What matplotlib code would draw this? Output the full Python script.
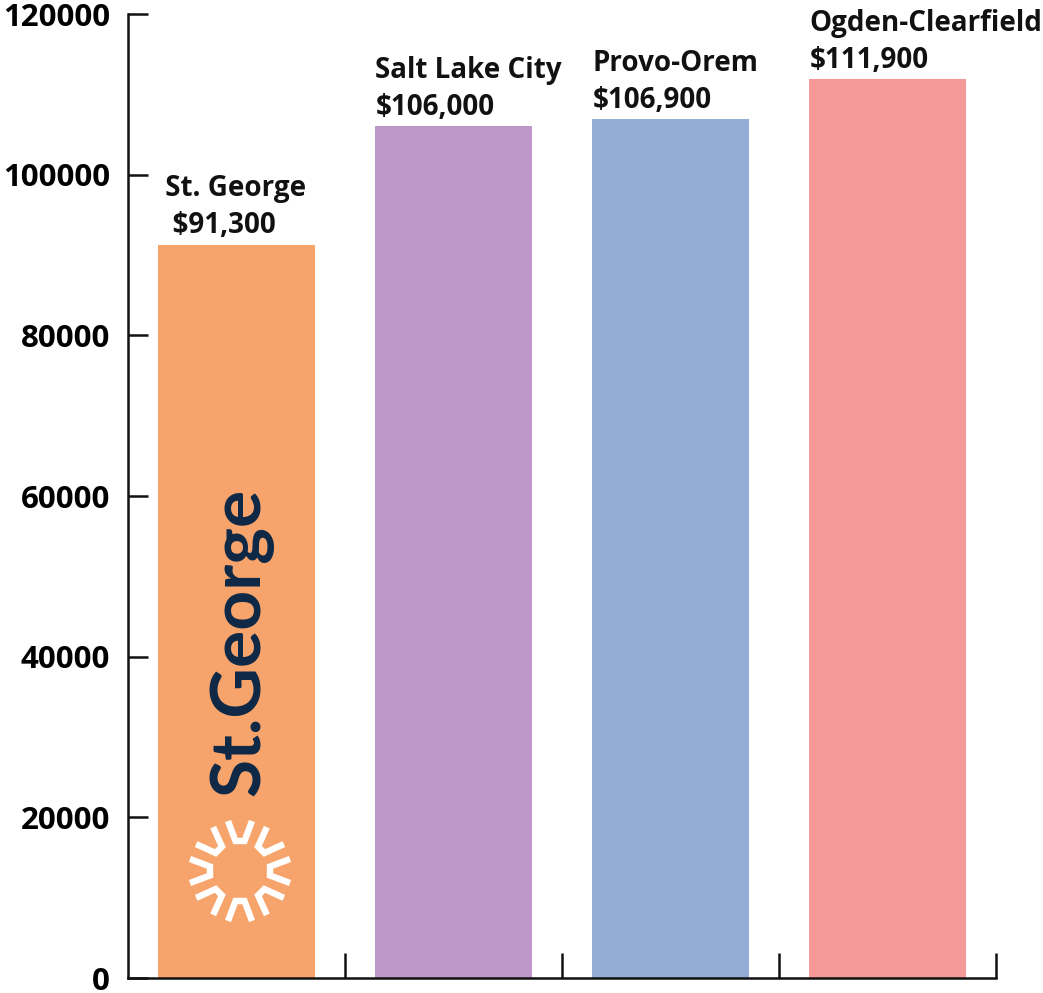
import matplotlib
matplotlib.use("Agg")
import matplotlib.pyplot as plt
from matplotlib.transforms import IdentityTransform
from matplotlib.lines import Line2D
import numpy as np

cities = ["St. George", "Salt Lake City", "Provo-Orem", "Ogden-Clearfield"]
values = [91300, 106000, 106900, 111900]
value_labels = ["$91,300", "$106,000", "$106,900", "$111,900"]
colors = ["#F7A46C", "#BD97C8", "#94ADD7", "#F49898"]
yticks = [0, 20000, 40000, 60000, 80000, 100000, 120000]

W, H = 1043, 993
fig = plt.figure(figsize=(W / 100, H / 100), dpi=100)
ax = fig.add_axes([128 / W, 1 - 978 / H, (996 - 128) / W, (978 - 14) / H])

x = np.arange(len(cities))
ax.bar(x, values, width=0.72, color=colors, zorder=2)
ax.set_xlim(-0.5, 3.5)
ax.set_ylim(0, 120000)

for sp in ["top", "right"]:
    ax.spines[sp].set_visible(False)
for sp in ["left", "bottom"]:
    ax.spines[sp].set_linewidth(1.8)
    ax.spines[sp].set_color("#111111")

ax.set_yticks(yticks)
ax.set_yticklabels([str(v) for v in yticks])
ax.set_xticks(x + 0.5)
ax.set_xticklabels([])
ax.tick_params(axis="y", direction="in", length=14.5, width=1.8, pad=13,
               labelsize=22.5, color="#111111")
ax.tick_params(axis="x", direction="in", length=18, width=1.8, color="#111111")
for lab in ax.get_yticklabels():
    lab.set_fontfamily("Open Sans")
    lab.set_fontweight("bold")

for i, (c, v, vl) in enumerate(zip(cities, values, value_labels)):
    if i == 0:
        txt = f" {c}\n  {vl}"
    else:
        txt = f"{c}\n{vl}"
    ax.annotate(txt, xy=(i - 0.36, v), xytext=(0, 3),
                textcoords="offset points", ha="left", va="bottom",
                fontsize=20, fontweight="bold", family="Open Sans",
                linespacing=1.38, color="#111111", annotation_clip=False)

# logo on the St. George bar
fig.text(241 / W, 1 - 642 / H, "St.George", rotation=90, ha="center", va="center",
         fontsize=50, family="Lato", fontweight="bold", color="#0D2846")

cx, cy = 240, H - 871
for k in range(8):
    a = np.deg2rad(90 + 45 * k)
    pts = [(50, -12), (30, -4.5), (30, 4.5), (50, 12)]
    xs, ys = [], []
    for r, t in pts:
        xs.append(cx + r * np.cos(a) - t * np.sin(a))
        ys.append(cy + r * np.sin(a) + t * np.cos(a))
    fig.add_artist(Line2D(xs, ys, transform=IdentityTransform(), color="white",
                          linewidth=4.6, solid_joinstyle="miter",
                          solid_capstyle="butt", zorder=5))

fig.savefig("out.png", dpi=100)
